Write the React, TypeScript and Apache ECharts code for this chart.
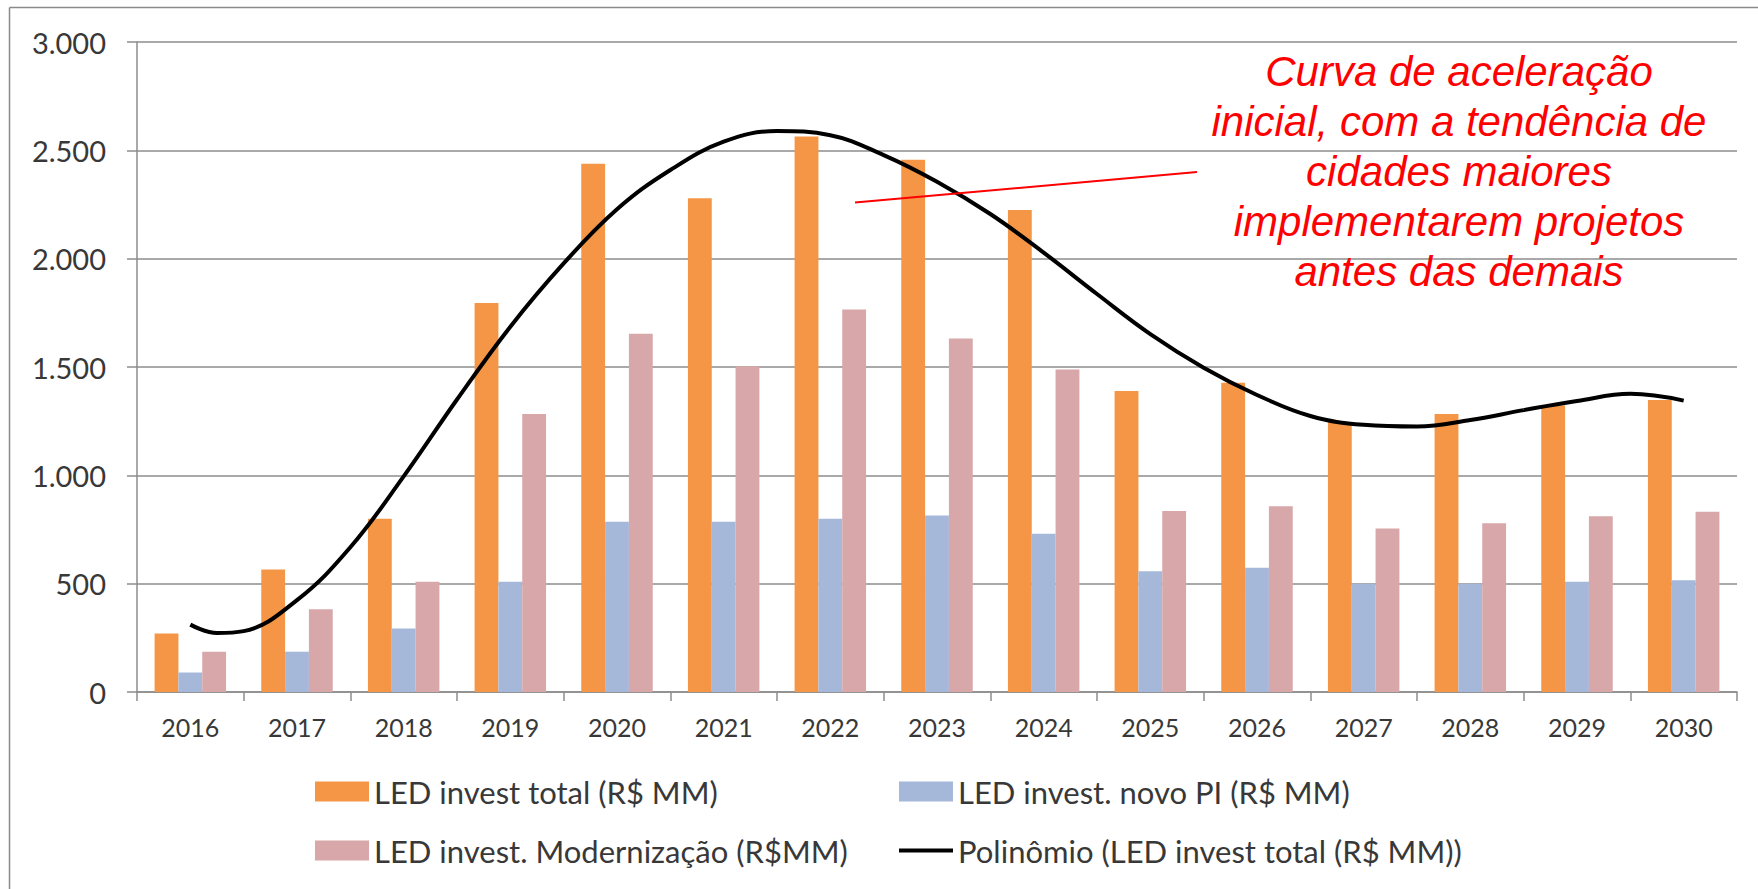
import React, { useEffect, useRef } from "react";
import * as echarts from "echarts";

const years = ["2016", "2017", "2018", "2019", "2020", "2021", "2022", "2023", "2024", "2025", "2026", "2027", "2028", "2029", "2030"];
const ledTotal = [270, 565, 800, 1795, 2438, 2279, 2564, 2456, 2225, 1389, 1427, 1245, 1283, 1322, 1348];
const ledNovoPI = [90, 186, 293, 509, 786, 786, 800, 815, 730, 557, 573, 500, 500, 509, 516];
const ledModern = [186, 382, 509, 1283, 1654, 1504, 1765, 1631, 1488, 835, 857, 755, 779, 811, 832];

// readings of the polynomial trend curve (year position, value)
const trendX = [2016, 2016.25, 2016.5, 2017, 2017.5, 2018, 2018.5, 2019, 2019.5, 2020, 2020.5, 2021, 2021.5, 2022, 2022.5, 2023, 2023.5, 2024, 2024.5, 2025, 2025.5, 2026, 2026.5, 2027, 2027.5, 2028, 2028.5, 2029, 2029.5, 2030];
const trendY = [311, 272, 281, 424, 668, 995, 1350, 1686, 1978, 2228, 2409, 2540, 2589, 2570, 2478, 2355, 2206, 2028, 1837, 1652, 1497, 1371, 1274, 1233, 1225, 1255, 1301, 1343, 1376, 1345];

const yMin = 0;
const yMax = 3000;
const yStep = 500;

const seriesNames = [
  "LED invest total (R$ MM)",
  "LED invest. novo PI (R$ MM)",
  "LED invest. Modernização (R$MM)",
  "Polinômio (LED invest total (R$ MM))",
];

const noteLines = [
  "Curva de aceleração",
  "inicial, com a tendência de",
  "cidades maiores",
  "implementarem projetos",
  "antes das demais",
];

const fmtThousands = (v: number) => {
  if (v >= 1000) {
    const t = Math.floor(v / 1000);
    const r = String(v % 1000).padStart(3, "0");
    return `${t}.${r}`;
  }
  return String(v);
};

export default function App() {
  const ref = useRef<HTMLDivElement>(null);

  useEffect(() => {
    if (!ref.current) return;
    const chart = echarts.init(ref.current, undefined, { renderer: "svg" });
    const font = "Lato, 'Open Sans', sans-serif";
    const textColor = "#383838";
    const gridColor = "#8c8c8c";

    const noteGraphics = noteLines.map((t, i) => ({
      type: "text",
      x: 1459,
      y: 71 + i * 50.2,
      z: 100,
      style: {
        text: t,
        fill: "#ff0000",
        fontSize: 42,
        fontStyle: "italic",
        fontFamily: "'Liberation Sans', Arial, sans-serif",
        align: "center",
        verticalAlign: "middle",
      },
    }));

    const legendText = { color: textColor, fontSize: 31, fontFamily: font, lineHeight: 20 };
    const mkLegend = (item: any, left: number, top: number, itemHeight: number) => ({
      data: [item],
      orient: "horizontal",
      left,
      top,
      itemWidth: 54,
      itemHeight,
      icon: "rect",
      selectedMode: false,
      padding: 0,
      textStyle: legendText,
    });

    chart.setOption({
      animation: false,
      backgroundColor: "#ffffff",
      grid: { left: 137, right: 21, top: 42, bottom: 197, containLabel: false },
      xAxis: [
        {
          type: "category",
          data: years,
          boundaryGap: true,
          axisLine: { show: true, lineStyle: { color: gridColor, width: 1.5 } },
          axisTick: { show: true, interval: 0, length: 9, lineStyle: { color: gridColor, width: 1.5 } },
          axisLabel: { interval: 0, margin: 22, color: textColor, fontSize: 25, fontFamily: font },
          splitLine: { show: false },
        },
        {
          type: "value",
          min: 2015.5,
          max: 2030.5,
          show: false,
          splitLine: { show: false },
        },
      ],
      yAxis: {
        type: "value",
        min: yMin,
        max: yMax,
        interval: yStep,
        axisLine: { show: true, lineStyle: { color: gridColor, width: 1.5 } },
        axisTick: { show: true, length: 10, lineStyle: { color: gridColor, width: 1.5 } },
        axisLabel: { margin: 31, color: textColor, fontSize: 29, fontFamily: font, formatter: fmtThousands },
        splitLine: { show: true, lineStyle: { color: gridColor, width: 1.5 } },
      },
      legend: [
        mkLegend(seriesNames[0], 315, 776, 20),
        mkLegend(seriesNames[2], 315, 835, 20),
        mkLegend(seriesNames[1], 899, 776, 20),
        mkLegend(seriesNames[3], 899, 835, 4),
      ],
      series: [
        {
          name: seriesNames[0],
          type: "bar",
          data: ledTotal,
          barGap: "0%",
          barCategoryGap: "33%",
          itemStyle: { color: "#F59646" },
        },
        {
          name: seriesNames[1],
          type: "bar",
          data: ledNovoPI,
          barGap: "0%",
          barCategoryGap: "33%",
          itemStyle: { color: "#A5B8D9" },
        },
        {
          name: seriesNames[2],
          type: "bar",
          data: ledModern,
          barGap: "0%",
          barCategoryGap: "33%",
          itemStyle: { color: "#D8A7A9" },
        },
        {
          name: seriesNames[3],
          type: "line",
          xAxisIndex: 1,
          data: trendX.map((x, i) => [x, trendY[i]]),
          smooth: 0.4,
          symbol: "none",
          showSymbol: false,
          lineStyle: { color: "#000000", width: 4 },
          itemStyle: { color: "#000000" },
          z: 5,
        },
      ],
      graphic: [
        {
          type: "line",
          z: 100,
          shape: { x1: 9.5, y1: 7.5, x2: 1758, y2: 7.5 },
          style: { stroke: "#8a8a8a", lineWidth: 1.5 },
        },
        {
          type: "line",
          z: 100,
          shape: { x1: 9.5, y1: 7.5, x2: 9.5, y2: 889 },
          style: { stroke: "#8a8a8a", lineWidth: 1.5 },
        },
        {
          type: "line",
          z: 100,
          shape: { x1: 855, y1: 202.6, x2: 1197, y2: 172 },
          style: { stroke: "#ff0000", lineWidth: 2 },
        },
        ...noteGraphics,
      ],
    });

    return () => {
      chart.dispose();
    };
  }, []);

  return (
    <div
      ref={ref}
      style={{ position: "absolute", left: 0, top: 0, width: "1758px", height: "889px", background: "#fff" }}
    />
  );
}
